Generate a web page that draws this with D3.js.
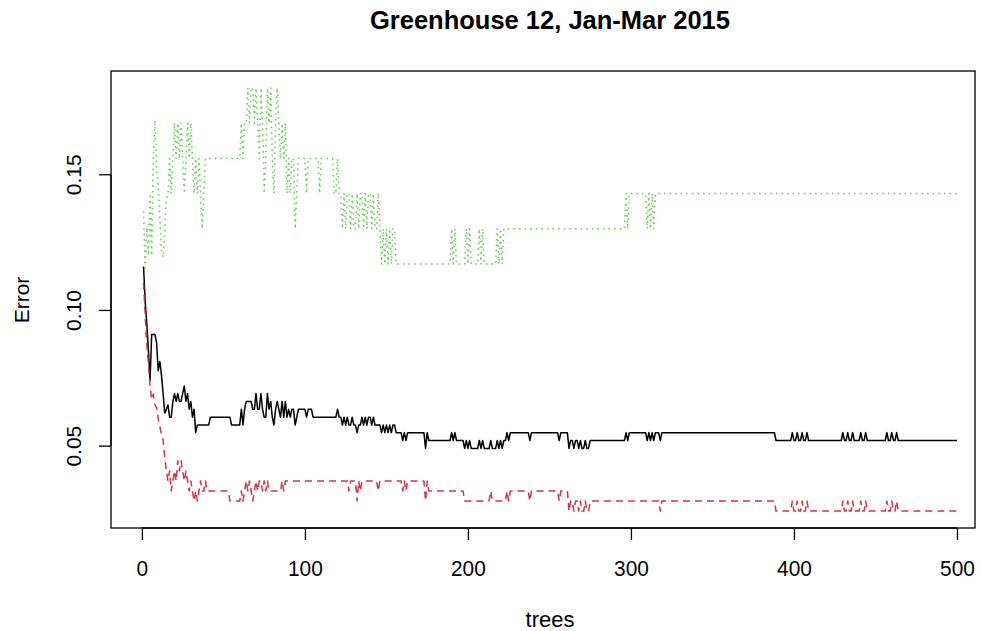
<!DOCTYPE html>
<html><head><meta charset="utf-8">
<script src="https://cdn.jsdelivr.net/npm/d3@7"></script>
<style>body{margin:0;background:#fff}svg{display:block}</style>
</head><body>
<svg id="c" width="982" height="631"></svg>
<script>
// ---- DATA (run-length: value holds from start tree until next start) ----
const nTrees = 500;
const seriesNames = ["OOB", "1", "2"];
const xTicks = [0, 100, 200, 300, 400, 500];
const yTicks = [0.05, 0.10, 0.15];
const yTickLabels = ["0.05", "0.10", "0.15"];

const oobRuns = [[1,0.1160],[2,0.1030],[3,0.0950],[4,0.0850],[5,0.0740],[6,0.0910],[9,0.0880],[10,0.0776],[11,0.0810],[12,0.0760],[13,0.0692],[14,0.0620],[15,0.0634],[16,0.0650],[17,0.0605],[19,0.0663],[20,0.0692],[21,0.0663],[22,0.0692],[23,0.0663],[25,0.0692],[26,0.0720],[27,0.0663],[28,0.0692],[29,0.0634],[30,0.0663],[31,0.0605],[32,0.0634],[33,0.0548],[34,0.0576],[42,0.0605],[55,0.0576],[61,0.0634],[62,0.0576],[63,0.0634],[64,0.0663],[68,0.0634],[70,0.0692],[71,0.0634],[73,0.0692],[74,0.0634],[75,0.0605],[77,0.0692],[78,0.0634],[79,0.0663],[80,0.0605],[81,0.0576],[82,0.0634],[83,0.0663],[84,0.0634],[85,0.0605],[86,0.0663],[87,0.0605],[88,0.0663],[89,0.0605],[90,0.0634],[91,0.0605],[92,0.0634],[94,0.0576],[95,0.0605],[96,0.0634],[101,0.0605],[102,0.0634],[105,0.0605],[118,0.0605],[120,0.0634],[121,0.0605],[123,0.0576],[124,0.0605],[125,0.0576],[126,0.0605],[127,0.0576],[129,0.0605],[130,0.0576],[132,0.0548],[133,0.0576],[135,0.0605],[136,0.0576],[137,0.0605],[138,0.0576],[139,0.0605],[141,0.0576],[142,0.0605],[143,0.0576],[147,0.0548],[148,0.0576],[149,0.0548],[150,0.0576],[151,0.0548],[152,0.0576],[153,0.0548],[154,0.0576],[156,0.0548],[160,0.0519],[161,0.0548],[162,0.0519],[163,0.0548],[174,0.0490],[175,0.0548],[176,0.0519],[190,0.0548],[191,0.0519],[192,0.0548],[193,0.0519],[198,0.0490],[199,0.0519],[200,0.0490],[201,0.0519],[202,0.0490],[207,0.0519],[208,0.0490],[209,0.0519],[210,0.0490],[214,0.0519],[215,0.0490],[218,0.0519],[219,0.0490],[220,0.0519],[221,0.0490],[222,0.0519],[224,0.0548],[225,0.0519],[226,0.0548],[238,0.0519],[239,0.0548],[256,0.0519],[257,0.0548],[262,0.0490],[263,0.0519],[265,0.0490],[266,0.0519],[268,0.0490],[269,0.0519],[270,0.0490],[272,0.0519],[273,0.0490],[275,0.0519],[297,0.0548],[298,0.0519],[299,0.0548],[310,0.0519],[311,0.0548],[312,0.0519],[313,0.0548],[314,0.0519],[315,0.0548],[318,0.0519],[319,0.0548],[389,0.0519],[399,0.0548],[400,0.0519],[402,0.0548],[403,0.0519],[405,0.0548],[406,0.0519],[408,0.0548],[409,0.0519],[430,0.0548],[431,0.0519],[433,0.0548],[434,0.0519],[436,0.0548],[437,0.0519],[441,0.0548],[442,0.0519],[444,0.0548],[445,0.0519],[457,0.0548],[458,0.0519],[460,0.0548],[461,0.0519],[463,0.0548],[464,0.0519]];

const class1Runs = [[1,0.1100],[2,0.0980],[3,0.0870],[4,0.0800],[5,0.0720],[6,0.0670],[7,0.0690],[8,0.0650],[9,0.0640],[10,0.0600],[11,0.0570],[12,0.0540],[13,0.0520],[14,0.0460],[15,0.0407],[16,0.0370],[17,0.0407],[18,0.0333],[19,0.0370],[20,0.0407],[21,0.0370],[22,0.0444],[23,0.0407],[24,0.0444],[25,0.0407],[26,0.0370],[27,0.0407],[28,0.0370],[29,0.0333],[30,0.0370],[31,0.0333],[32,0.0296],[33,0.0333],[34,0.0296],[35,0.0333],[36,0.0370],[37,0.0333],[39,0.0370],[40,0.0333],[54,0.0296],[61,0.0333],[62,0.0296],[63,0.0333],[64,0.0370],[65,0.0333],[66,0.0370],[67,0.0333],[68,0.0296],[69,0.0333],[70,0.0370],[71,0.0333],[72,0.0370],[74,0.0333],[75,0.0370],[76,0.0333],[77,0.0370],[78,0.0333],[86,0.0370],[87,0.0333],[88,0.0370],[127,0.0333],[128,0.0370],[132,0.0296],[133,0.0370],[134,0.0333],[135,0.0370],[145,0.0333],[146,0.0370],[160,0.0333],[161,0.0370],[162,0.0333],[163,0.0370],[174,0.0296],[175,0.0370],[176,0.0333],[198,0.0296],[214,0.0333],[215,0.0296],[224,0.0333],[225,0.0296],[226,0.0333],[238,0.0296],[239,0.0333],[256,0.0296],[257,0.0333],[262,0.0259],[263,0.0296],[265,0.0259],[266,0.0296],[268,0.0259],[269,0.0296],[270,0.0259],[272,0.0296],[273,0.0259],[275,0.0296],[318,0.0259],[319,0.0296],[389,0.0259],[399,0.0296],[400,0.0259],[402,0.0296],[403,0.0259],[405,0.0296],[406,0.0259],[408,0.0296],[409,0.0259],[430,0.0296],[431,0.0259],[433,0.0296],[434,0.0259],[436,0.0296],[437,0.0259],[441,0.0296],[442,0.0259],[444,0.0296],[445,0.0259],[457,0.0296],[458,0.0259],[460,0.0296],[461,0.0259],[463,0.0296],[464,0.0259]];

const class2Runs = [[1,0.1364],[2,0.1154],[3,0.1304],[4,0.1200],[5,0.1429],[6,0.1200],[7,0.1556],[8,0.1698],[9,0.1525],[10,0.1452],[11,0.1333],[12,0.1212],[13,0.1194],[14,0.1286],[15,0.1408],[16,0.1429],[17,0.1558],[18,0.1429],[19,0.1558],[20,0.1688],[21,0.1558],[22,0.1688],[23,0.1558],[24,0.1688],[25,0.1558],[26,0.1429],[27,0.1558],[28,0.1688],[29,0.1558],[30,0.1688],[31,0.1558],[32,0.1429],[33,0.1558],[34,0.1429],[35,0.1558],[36,0.1429],[37,0.1299],[38,0.1429],[39,0.1558],[61,0.1688],[62,0.1558],[63,0.1688],[65,0.1818],[66,0.1688],[67,0.1818],[69,0.1688],[70,0.1818],[71,0.1688],[72,0.1558],[73,0.1818],[74,0.1688],[75,0.1429],[76,0.1558],[77,0.1818],[78,0.1688],[79,0.1818],[80,0.1558],[81,0.1429],[82,0.1688],[83,0.1818],[84,0.1688],[85,0.1558],[86,0.1688],[87,0.1558],[88,0.1688],[89,0.1429],[90,0.1558],[91,0.1429],[92,0.1558],[94,0.1299],[95,0.1429],[96,0.1558],[101,0.1429],[102,0.1558],[109,0.1429],[110,0.1558],[118,0.1429],[120,0.1558],[121,0.1429],[123,0.1299],[124,0.1429],[125,0.1299],[126,0.1429],[128,0.1299],[129,0.1429],[130,0.1299],[132,0.1429],[133,0.1299],[134,0.1429],[136,0.1299],[137,0.1429],[138,0.1299],[139,0.1429],[141,0.1299],[142,0.1429],[143,0.1299],[145,0.1429],[146,0.1299],[147,0.1169],[148,0.1299],[149,0.1169],[150,0.1299],[151,0.1169],[152,0.1299],[153,0.1169],[154,0.1299],[156,0.1169],[190,0.1299],[191,0.1169],[192,0.1299],[193,0.1169],[199,0.1299],[200,0.1169],[201,0.1299],[202,0.1169],[207,0.1299],[208,0.1169],[209,0.1299],[210,0.1169],[218,0.1299],[219,0.1169],[220,0.1299],[221,0.1169],[222,0.1299],[297,0.1429],[298,0.1299],[299,0.1429],[310,0.1299],[311,0.1429],[312,0.1299],[313,0.1429],[314,0.1299],[315,0.1429]];

// ---- helpers ----
function expand(runs){
  const out=[];
  for(let i=0;i<runs.length;i++){
    const s=runs[i][0], e=(i+1<runs.length?runs[i+1][0]-1:nTrees);
    for(let t=s;t<=e;t++) out.push({t:t,v:runs[i][1]});
  }
  return out;
}
const series=[
  {name:seriesNames[0], data:expand(oobRuns),    color:"#000000", dash:null, w:1.5},
  {name:seriesNames[1], data:expand(class1Runs), color:"#D43348", dash:"7,5", w:1.5},
  {name:seriesNames[2], data:expand(class2Runs), color:"#61D04F", dash:"1.6,4", w:1.5}
];

const svg=d3.select("#c");
svg.append("rect").attr("width",982).attr("height",631).attr("fill","#fff");
const L=111, R=989.5, T=71, B=528;
const allV=series.flatMap(s=>s.data.map(d=>d.v));
const ymin=d3.min(allV), ymax=d3.max(allV), yp=(ymax-ymin)*0.04;
const xp=(nTrees-1)*0.04;
const x=d3.scaleLinear().domain([1-xp,nTrees+xp]).range([L,R]);
const y=d3.scaleLinear().domain([ymin-yp,ymax+yp]).range([B,T]);

const line=d3.line().x(d=>x(d.t)).y(d=>y(d.v));
series.forEach(s=>{
  svg.append("path").datum(s.data).attr("d",line)
    .attr("fill","none").attr("stroke",s.color).attr("stroke-width",s.w)
    .attr("stroke-dasharray",s.dash).attr("stroke-linejoin","round");
});

// box
svg.append("rect").attr("x",L).attr("y",T).attr("width",975-L).attr("height",B-T)
  .attr("fill","none").attr("stroke","#000").attr("stroke-width",1.3);

// axes
const font="'Liberation Sans', Arial, Helvetica, sans-serif";
const xa=svg.append("g").attr("transform",`translate(0,${B})`)
  .call(d3.axisBottom(x).tickValues(xTicks).tickSize(12).tickFormat(d3.format("d")));
xa.select(".domain").attr("d",`M${x(xTicks[0])},0H${x(xTicks[xTicks.length-1])}`).attr("stroke-width",1.3);
xa.selectAll(".tick line").attr("stroke-width",1.3);
xa.selectAll(".tick text").attr("font-family",font).attr("font-size",22).attr("fill","#000")
  .attr("y",0).attr("dy",0).attr("transform","translate(0,48) scale(0.95,1)");

const ya=svg.append("g").attr("transform",`translate(${L},0)`)
  .call(d3.axisLeft(y).tickValues(yTicks).tickSize(12).tickFormat((d,i)=>yTickLabels[i]));
ya.select(".domain").attr("d",`M0,${y(yTicks[0])}V${y(yTicks[yTicks.length-1])}`).attr("stroke-width",1.3);
ya.selectAll(".tick line").attr("stroke-width",1.3);
ya.selectAll(".tick text").attr("font-family",font).attr("font-size",21).attr("fill","#000")
  .attr("x",0).attr("dy",0).attr("text-anchor","middle")
  .attr("transform","translate(-30,0) rotate(-90)");

svg.append("text").attr("x",550).attr("y",29).attr("text-anchor","middle")
  .attr("font-family",font).attr("font-weight","bold").attr("font-size",25.5).text("Greenhouse 12, Jan-Mar 2015");
svg.append("text").attr("x",550).attr("y",627).attr("text-anchor","middle")
  .attr("font-family",font).attr("font-size",22).text("trees");
svg.append("text").attr("transform","translate(29,300) rotate(-90)").attr("text-anchor","middle")
  .attr("font-family",font).attr("font-size",21).text("Error");
</script>
</body></html>
